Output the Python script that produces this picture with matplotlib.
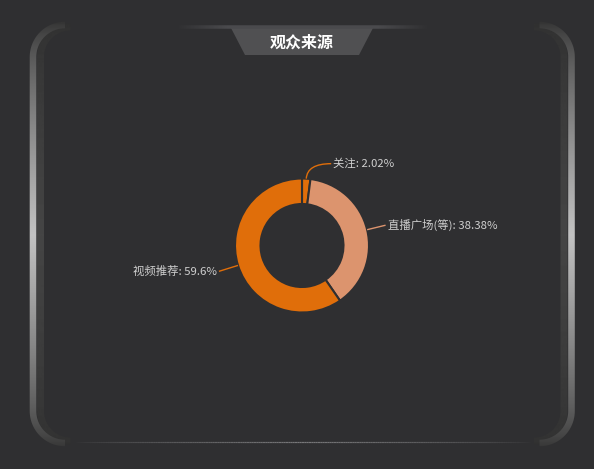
import numpy as np
import matplotlib
matplotlib.use("Agg")
import matplotlib.pyplot as plt
from matplotlib.collections import LineCollection
from matplotlib.patches import Polygon, PathPatch
from matplotlib.path import Path

plt.rcParams['font.family'] = ['Noto Sans CJK SC', 'DejaVu Sans']

title = "观众来源"
labels = ["关注", "直播广场(等)", "视频推荐"]
values = [2.02, 38.38, 59.6]
colors = ["#e06e0a", "#dc946e", "#e06e0a"]
# leader line lengths (radial, horizontal) in px
leader = [(15, 24), (19, 0), (20, 0)]

W, H = 594, 469
BG = "#2f2f31"
fig = plt.figure(figsize=(W / 100, H / 100), dpi=100, facecolor=BG)
ax = fig.add_axes([0, 0, 1, 1])
ax.set_facecolor(BG)


def Y(y):
    return H - y


def edge_poly(x_edge, sgn, hw, y0=25, y1=443, r=32):
    # band along one side: top arc, straight, bottom arc (screen px)
    cxc = x_edge + sgn * r
    outer, inner = [], []
    for rr, out in [(r + hw, outer), (r - hw, inner)]:
        for a in np.linspace(np.pi / 2, 0, 40):
            out.append((cxc - sgn * rr * np.cos(a), y0 + r - rr * np.sin(a)))
        for a in np.linspace(0, np.pi / 2, 40):
            out.append((cxc - sgn * rr * np.cos(a), y1 - r + rr * np.sin(a)))
    pts = outer + inner[::-1]
    return [(x, Y(y)) for x, y in pts]


# vertical gradient image for frame edges
ys = np.linspace(0, H, 470)
d = np.clip(1 - np.abs(ys - 234) / 212.0, 0, 1)
v = 0.21 + 0.55 * d ** 0.75
grad = np.repeat(v[::-1, None], 2, axis=1)
inner_grad = 0.19 + 0.08 * d ** 0.7
inner_img = np.repeat(inner_grad[::-1, None], 2, axis=1)

for xe, sgn in [(33, 1), (571.5, -1)]:
    band_in = Polygon(edge_poly(xe + sgn * 7.5, sgn, 3.5, y0=27, y1=441, r=30),
                      closed=True, facecolor="none", edgecolor="none")
    ax.add_patch(band_in)
    im = ax.imshow(inner_img, cmap="gray", vmin=0, vmax=1, extent=(0, W, 0, H),
                   aspect="auto", interpolation="bilinear", zorder=1)
    im.set_clip_path(band_in)
    band = Polygon(edge_poly(xe, sgn, 3.3), closed=True, facecolor="none",
                   edgecolor="none")
    ax.add_patch(band)
    im = ax.imshow(grad, cmap="gray", vmin=0, vmax=1, extent=(0, W, 0, H),
                   aspect="auto", interpolation="bilinear", zorder=2)
    im.set_clip_path(band)

# bottom line
xs = np.linspace(75, 530, 200)
segs = [[(xs[i], Y(442)), (xs[i + 1], Y(442))] for i in range(len(xs) - 1)]
a = 1 - np.abs((xs[:-1] - 302) / 228)
ax.add_collection(LineCollection(segs, colors=[(0.47, 0.47, 0.48, max(t, 0) ** 0.7) for t in a],
                                 linewidths=1.2 * 0.72))

# top line near the title tab
xs = np.linspace(176, 428, 200)
segs = [[(xs[i], Y(27)), (xs[i + 1], Y(27))] for i in range(len(xs) - 1)]
a = 1 - np.abs((xs[:-1] - 302) / 126)
ax.add_collection(LineCollection(segs, colors=[(0.29, 0.29, 0.30, min(1, max(t, 0) * 2.5)) for t in a],
                                 linewidths=3.5 * 0.72))

# title tab
ax.add_patch(Polygon([(231, Y(28)), (373, Y(28)), (359, Y(55)), (245, Y(55))],
                     closed=True, facecolor="#505052", edgecolor="none"))
ax.text(302, Y(43), title, color="white", fontsize=11.5, fontweight="bold",
        ha="center", va="center")

# ---- donut
cx, cy, R, r_in = 302, Y(245.5), 67, 41.5
wedges, _ = ax.pie(values, colors=colors, startangle=90, counterclock=False,
                   center=(cx, cy), radius=R,
                   wedgeprops=dict(width=R - r_in, edgecolor=BG, linewidth=1.5))

for w, lab, val, col, (l1, l2) in zip(wedges, labels, values, colors, leader):
    ang = np.deg2rad((w.theta1 + w.theta2) / 2)
    c, s = np.cos(ang), np.sin(ang)
    p0 = (cx + R * c, cy + R * s)
    p1 = (cx + (R + l1) * c, cy + (R + l1) * s)
    side = 1 if c >= 0 else -1
    p2 = (p1[0] + side * l2, p1[1])
    if l2 > 0:
        path = Path([p0, p1, p2], [Path.MOVETO, Path.CURVE3, Path.CURVE3])
    else:
        path = Path([p0, p1], [Path.MOVETO, Path.LINETO])
    ax.add_patch(PathPatch(path, facecolor="none", edgecolor=col, lw=1.0))
    ax.text(p2[0] + side * 2, p2[1], f"{lab}: {val:g}%", color="#cfcfcf",
            fontsize=8.2, ha="left" if side > 0 else "right", va="center")

ax.set_xlim(0, W)
ax.set_ylim(0, H)
ax.set_aspect("auto")
ax.axis("off")

fig.savefig("out.png", dpi=100, facecolor=BG)
